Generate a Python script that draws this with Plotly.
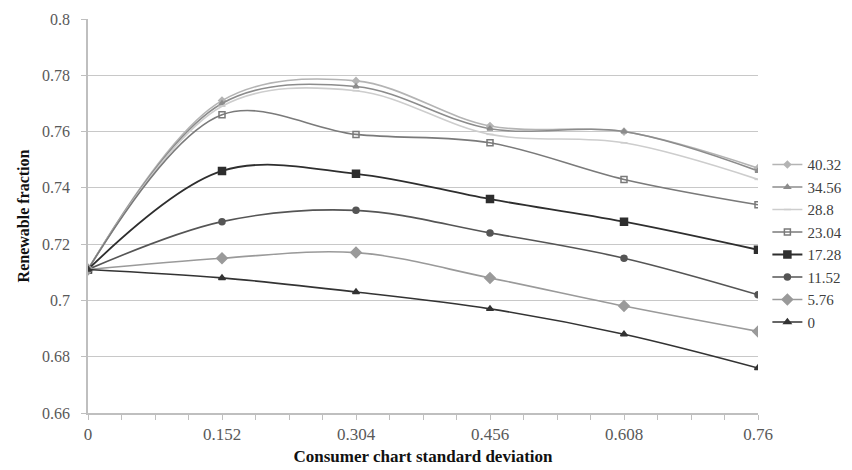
import plotly.graph_objects as go

x_vals = [0, 0.152, 0.304, 0.456, 0.608, 0.76]
x_ticktext = ["0", "0.152", "0.304", "0.456", "0.608", "0.76"]
y_tickvals = [0.66, 0.68, 0.70, 0.72, 0.74, 0.76, 0.78, 0.80]
y_ticktext = ["0.66", "0.68", "0.7", "0.72", "0.74", "0.76", "0.78", "0.8"]

series_names = ["40.32", "34.56", "28.8", "23.04", "17.28", "11.52", "5.76", "0"]
s_40_32 = [0.711, 0.771, 0.778, 0.762, 0.760, 0.747]
s_34_56 = [0.711, 0.770, 0.776, 0.761, 0.760, 0.746]
s_28_8 = [0.711, 0.769, 0.7745, 0.759, 0.756, 0.743]
s_23_04 = [0.711, 0.766, 0.759, 0.756, 0.743, 0.734]
s_17_28 = [0.711, 0.746, 0.745, 0.736, 0.728, 0.718]
s_11_52 = [0.711, 0.728, 0.732, 0.724, 0.715, 0.702]
s_5_76 = [0.711, 0.715, 0.717, 0.708, 0.698, 0.689]
s_0 = [0.711, 0.708, 0.703, 0.697, 0.688, 0.676]
all_series = [s_40_32, s_34_56, s_28_8, s_23_04, s_17_28, s_11_52, s_5_76, s_0]

styles = [
    dict(color="#b4b4b4", symbol="diamond", size=5, width=1.6),
    dict(color="#8c8c8c", symbol="triangle-up", size=5, width=1.6),
    dict(color="#cdcdcd", symbol="line-ew", size=5, width=1.6),
    dict(color="#7a7a7a", symbol="square-open", size=6, width=1.6),
    dict(color="#2e2e2e", symbol="square", size=7, width=1.8),
    dict(color="#555555", symbol="circle", size=6, width=1.6),
    dict(color="#9a9a9a", symbol="diamond", size=8, width=1.6),
    dict(color="#333333", symbol="triangle-up", size=6, width=1.6),
]

fig = go.Figure()
for name, ys, st in zip(series_names, all_series, styles):
    fig.add_trace(go.Scatter(
        x=x_vals, y=ys, name=name, mode="lines+markers",
        line=dict(color=st["color"], width=st["width"], shape="spline", smoothing=1.0),
        marker=dict(symbol=st["symbol"], size=st["size"], color=st["color"],
                    line=dict(color=st["color"], width=1.5)),
    ))

font_family = "Liberation Serif, Times New Roman, serif"

fig.update_layout(
    width=844, height=462,
    margin=dict(l=80, r=94, t=11, b=57, autoexpand=False),
    plot_bgcolor="white", paper_bgcolor="white",
    font=dict(family=font_family, size=14, color="#595959"),
    showlegend=True,
    legend=dict(x=1.014, y=0.672, xanchor="left", yanchor="top",
                font=dict(family=font_family, size=15, color="#404040"),
                tracegroupgap=0, itemwidth=30, bgcolor="rgba(0,0,0,0)"),
    xaxis=dict(
        range=[0, 0.76], tickvals=x_vals, ticktext=x_ticktext,
        showgrid=False, zeroline=False, automargin=False,
        showline=True, linecolor="#bfbfbf", linewidth=1.5,
        ticks="outside", ticklen=5, tickcolor="#bfbfbf",
        minor=dict(dtick=0.038, tick0=0, ticks="outside", ticklen=5, tickcolor="#bfbfbf", showgrid=False),
        tickfont=dict(family=font_family, size=17, color="#595959"),
        ticklabeloverflow="allow",
        title=dict(text="<b>Consumer chart standard deviation</b>",
                   font=dict(family=font_family, size=17, color="#111111"), standoff=7),
    ),
    yaxis=dict(
        range=[0.66, 0.80], tickvals=y_tickvals, ticktext=y_ticktext,
        showgrid=True, gridcolor="#c8c8c8", gridwidth=1.3, zeroline=False, automargin=False,
        showline=True, linecolor="#bfbfbf", linewidth=1.5,
        ticks="outside", ticklen=5, tickcolor="#bfbfbf",
        ticklabelstandoff=8, ticklabeloverflow="allow",
        tickfont=dict(family=font_family, size=16, color="#595959"),
        title=dict(text="<b>Renewable fraction</b>",
                   font=dict(family=font_family, size=16, color="#111111"), standoff=8),
    ),
)

fig.write_html("out.html")
